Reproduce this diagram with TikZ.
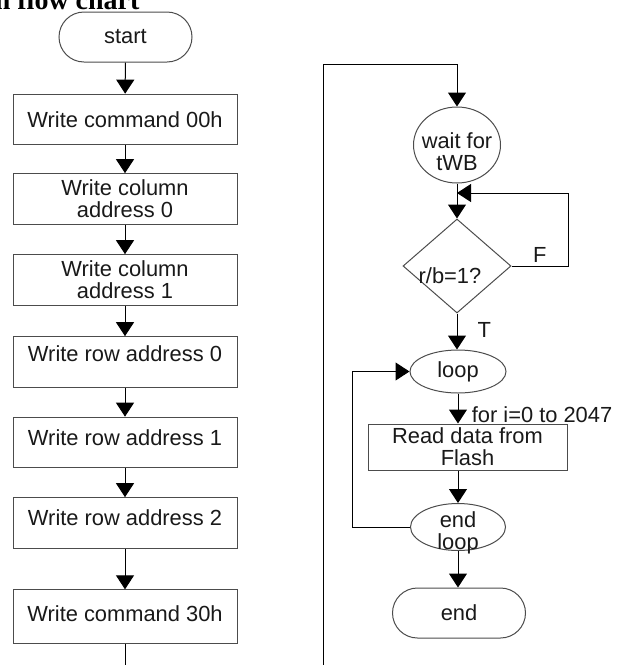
\documentclass[tikz,border=0pt]{standalone}
\usepackage{fontspec}
\setmainfont{Liberation Sans}
\newfontfamily\headfont{Liberation Serif}
\usetikzlibrary{arrows.meta,shapes.geometric}

\tikzset{every picture/.style={line width=0.75pt}}
\tikzset{
  txt/.style={font=\fontsize{16.4}{16.5}\selectfont, align=center, inner sep=0pt, text=black!90},
  flow/.style={txt, draw=black!70},
  stepbox/.style={flow, rectangle, minimum width=168pt, minimum height=38pt},
  term/.style={flow, rectangle, rounded corners=18.75pt, minimum width=99.75pt, minimum height=37.5pt},
  oval/.style={draw=black!70, ellipse, inner sep=0pt},
  test/.style={draw=black!70, diamond, inner sep=0pt},
  inside/.style={label={[txt]center:#1}},
  link/.style={-{Triangle[width=13.5pt,length=10.5pt]}},
}

\begin{document}
\begin{tikzpicture}[x=0.75pt,y=0.75pt,yscale=-1,xscale=1]
    \useasboundingbox (0,0) rectangle (626,665);
    \clip (0,0) rectangle (626,665);

    % Text Node: heading
    \node (head) [anchor=base east, inner sep=0pt, font=\headfont\bfseries\fontsize{21}{24}\selectfont] at (140,9.5) {n flow chart};

    %Shape: left column
    \node (start) [term] at (125.5,37) {start};
    \node (cmd0) [stepbox] at (125,119.5) {Write command 00h};
    \node (col0) [stepbox] at (125,199) {Write column\\address 0};
    \node (col1) [stepbox] at (125,280) {Write column\\address 1};
    \node (row0) [stepbox, text depth=12pt] at (125,362) {Write row address 0};
    \node (row1) [stepbox, text depth=8pt] at (125,442.5) {Write row address 1};
    \node (row2) [stepbox, text depth=8pt] at (125,523) {Write row address 2};
    \node (cmd30) [stepbox, text depth=5pt, minimum height=40pt] at (125,616.5) {Write command 30h};
    \coordinate (downL) at (125,668);

    %Straight Lines: left column
    \draw [link] (start) -- (cmd0);
    \draw [link] (cmd0) -- (col0);
    \draw [link] (col0) -- (col1);
    \draw [link] (col1) -- (row0);
    \draw [link] (row0) -- (row1);
    \draw [link] (row1) -- (row2);
    \draw [link] (row2) -- (cmd30);
    \draw (cmd30) -- (downL);

    %Shape: right column
    \node (wait) [oval, minimum width=65.25pt, minimum height=57pt, label={[txt, yshift=-5pt]center:wait for\\tWB}] at (457,145) {};
    \node (ready) [test, minimum width=81pt, minimum height=70.5pt, label={[txt, xshift=-5.25pt, yshift=-7pt]center:r/b=1?}] at (457,266) {};
    \node (loop) [oval, minimum width=72pt, minimum height=32.25pt, inside=loop] at (458,371.5) {};
    \node (read) [stepbox, minimum width=149.25pt, minimum height=34.5pt] at (467.5,447) {Read data from\\Flash};
    \node (endloop) [oval, minimum width=71.25pt, minimum height=35.25pt, label={[txt, yshift=-4.5pt]center:end\\loop}] at (458,527) {};
    \node (stop) [term] at (459,613) {end};
    \coordinate (upR) at (323,668);
    \coordinate (topR) at (323,64);
    \coordinate (retR) at (568,193);
    \coordinate (backL) at (352,527);

    %Straight Lines: right column
    \draw [link] (upR) -- (topR) -| (wait.north);
    \draw [link] (wait) -- (ready);
    \draw [link] (ready.east) -| node [pos=0.25, above, txt, inner sep=2pt] {F} (retR) -- (wait.south |- retR);
    \draw [link] (ready) -- node [pos=0.45, right=15pt, txt] {T} (ready.south |- loop.north);
    \draw [link] (loop.south) -- node [pos=0.7, right=10pt, txt] {for i=0 to 2047} (loop.south |- read.north);
    \draw [link] (loop.south |- read.south) -- (endloop);
    \draw [link] (endloop.west) -- (backL) |- (loop.west);
    \draw [link] (endloop) -- (endloop.south |- stop.north);

\end{tikzpicture}
\end{document}
